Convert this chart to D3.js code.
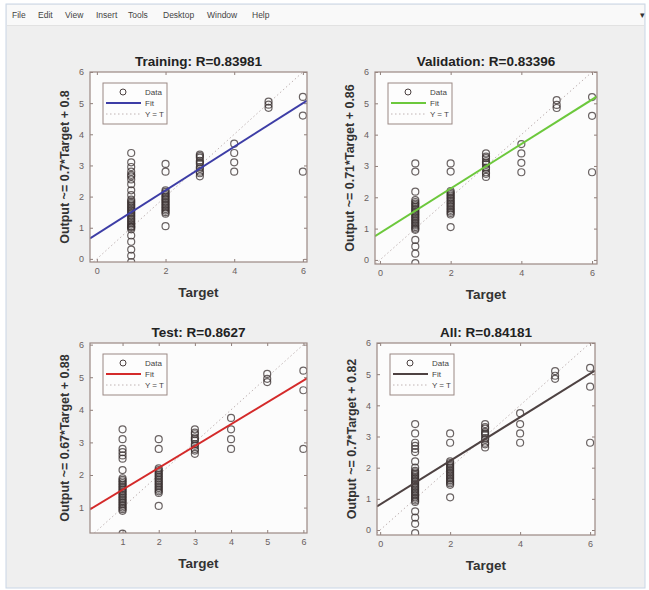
<!DOCTYPE html>
<html>
<head>
<meta charset="utf-8">
<script src="https://cdn.jsdelivr.net/npm/d3@7"></script>
<style>
  body { margin: 0; background: #ffffff; }
  svg { display: block; font-family: "Liberation Sans", Arial, sans-serif; }
</style>
</head>
<body>
<svg id="fig" width="649" height="590"></svg>
<script>
const menuItems = ['File', 'Edit', 'View', 'Insert', 'Tools', 'Desktop', 'Window', 'Help'];

const panelNames = ['Training', 'Validation', 'Test', 'All'];
const rValues = ['0.83981', '0.83396', '0.8627', '0.84181'];
const slopes = [0.7, 0.71, 0.67, 0.7];
const intercepts = [0.8, 0.86, 0.88, 0.82];
const fitColors = ['#3d3da6', '#6cc83c', '#d42a2a', '#4e4242'];

const targets = [1, 2, 3, 4, 5, 6];

// outputs grouped by target value (one inner array per target)
const trainingOutputs = [
  [-0.1, 0.1, 0.3, 0.55, 0.75, 0.95, 1.0, 1.03, 1.05, 1.1, 1.15, 1.2, 1.25, 1.3, 1.35, 1.4, 1.45, 1.5, 1.55, 1.6, 1.65, 1.7, 1.75, 1.8, 1.85, 1.9, 2.05, 2.2, 2.4, 2.55, 2.65, 2.7, 2.8, 2.95, 3.1, 3.4],
  [1.05, 1.45, 1.5, 1.55, 1.6, 1.65, 1.7, 1.75, 1.8, 1.85, 1.9, 1.95, 2.0, 2.05, 2.1, 2.15, 2.2, 2.8, 3.05],
  [2.65, 2.75, 2.8, 2.9, 2.95, 3.05, 3.1, 3.15, 3.25, 3.3, 3.35],
  [2.8, 3.1, 3.4, 3.7],
  [4.85, 4.95, 5.05],
  [2.8, 4.6, 5.2]
];
const validationOutputs = [
  [-0.1, 0.2, 0.43, 0.64, 0.96, 1.0, 1.05, 1.1, 1.15, 1.2, 1.25, 1.3, 1.35, 1.4, 1.45, 1.5, 1.55, 1.6, 1.65, 1.7, 1.75, 1.8, 1.85, 1.91, 2.18, 2.82, 3.08],
  [1.05, 1.45, 1.5, 1.55, 1.6, 1.65, 1.7, 1.75, 1.8, 1.85, 1.9, 1.95, 2.0, 2.05, 2.1, 2.15, 2.2, 2.82, 3.08],
  [2.65, 2.75, 2.8, 2.9, 2.95, 3.05, 3.1, 3.15, 3.25, 3.3, 3.4],
  [2.8, 3.1, 3.4, 3.7],
  [4.85, 4.95, 5.1],
  [2.8, 4.6, 5.2]
];
const testOutputs = [
  [0.2, 0.9, 0.95, 1.0, 1.05, 1.1, 1.15, 1.2, 1.25, 1.3, 1.35, 1.4, 1.45, 1.5, 1.55, 1.6, 1.65, 1.7, 1.75, 1.8, 1.85, 1.9, 2.15, 2.5, 2.6, 2.7, 2.8, 3.1, 3.4],
  [1.05, 1.45, 1.5, 1.55, 1.6, 1.65, 1.7, 1.75, 1.8, 1.85, 1.9, 1.95, 2.0, 2.05, 2.1, 2.15, 2.2, 2.8, 3.1],
  [2.65, 2.75, 2.8, 2.9, 2.95, 3.05, 3.1, 3.15, 3.25, 3.3, 3.4],
  [2.8, 3.1, 3.4, 3.75],
  [4.85, 4.95, 5.1],
  [2.8, 4.6, 5.2]
];
const allOutputs = [
  [-0.1, 0.2, 0.4, 0.6, 0.9, 0.95, 1.0, 1.05, 1.1, 1.15, 1.2, 1.25, 1.3, 1.35, 1.4, 1.45, 1.5, 1.55, 1.6, 1.65, 1.7, 1.75, 1.8, 1.85, 1.9, 2.0, 2.2, 2.5, 2.6, 2.7, 2.8, 3.1, 3.4],
  [1.05, 1.45, 1.5, 1.55, 1.6, 1.65, 1.7, 1.75, 1.8, 1.85, 1.9, 1.95, 2.0, 2.05, 2.1, 2.15, 2.2, 2.8, 3.1],
  [2.65, 2.75, 2.8, 2.9, 2.95, 3.05, 3.1, 3.15, 3.25, 3.3, 3.4],
  [2.8, 3.1, 3.4, 3.75],
  [4.85, 4.95, 5.1],
  [2.8, 4.6, 5.2]
];
const outputSets = [trainingOutputs, validationOutputs, testOutputs, allOutputs];

const xTickSets = [[0, 2, 4, 6], [0, 2, 4, 6], [1, 2, 3, 4, 5, 6], [0, 2, 4, 6]];
const yTickSets = [[0, 1, 2, 3, 4, 5, 6], [0, 1, 2, 3, 4, 5, 6], [1, 2, 3, 4, 5, 6], [0, 1, 2, 3, 4, 5, 6]];
const legendLabels = ['Data', 'Fit', 'Y = T'];

// axes boxes and limits
const layout = [
  { x0: 90, y0: 72, x1: 307, y1: 262, xDom: [-0.2, 6.12], yDom: [-0.1, 6] },
  { x0: 375, y0: 72, x1: 597, y1: 264, xDom: [-0.14, 6.14], yDom: [-0.13, 6] },
  { x0: 90, y0: 343, x1: 307, y1: 533, xDom: [0.1, 6.1], yDom: [0.22, 6.05] },
  { x0: 377, y0: 343, x1: 595, y1: 535, xDom: [-0.09, 6.14], yDom: [-0.16, 6] }
];

const svg = d3.select('#fig');

// window chrome
svg.append('rect').attr('x', 0).attr('y', 0).attr('width', 649).attr('height', 590).attr('fill', '#ffffff');
svg.append('rect').attr('x', 6).attr('y', 4).attr('width', 639).attr('height', 584)
  .attr('fill', '#efefef').attr('stroke', '#c9d6e6');
svg.append('rect').attr('x', 7).attr('y', 5).attr('width', 637).attr('height', 20).attr('fill', '#f9f9f9');
svg.append('line').attr('x1', 7).attr('x2', 644).attr('y1', 25.5).attr('y2', 25.5).attr('stroke', '#e2e2e2');

const menuPos = [12, 38, 65, 96, 128, 163, 207, 252];
svg.append('g').selectAll('text').data(menuItems).enter().append('text')
  .attr('x', (d, i) => menuPos[i])
  .attr('y', 18)
  .attr('font-size', 8.5)
  .attr('fill', '#444')
  .text(d => d);
svg.append('text').attr('x', 640).attr('y', 18).attr('font-size', 9).attr('fill', '#333').text('▾');

panelNames.forEach(function (name, i) {
  const L = layout[i];
  const g = svg.append('g');

  const xScale = d3.scaleLinear().domain(L.xDom).range([L.x0, L.x1]);
  const yScale = d3.scaleLinear().domain(L.yDom).range([L.y1, L.y0]);

  g.append('rect')
    .attr('x', L.x0).attr('y', L.y0)
    .attr('width', L.x1 - L.x0).attr('height', L.y1 - L.y0)
    .attr('fill', '#fcfcfc');

  const clipId = 'clip' + i;
  g.append('clipPath').attr('id', clipId).append('rect')
    .attr('x', L.x0).attr('y', L.y0)
    .attr('width', L.x1 - L.x0).attr('height', L.y1 - L.y0);

  // axes (ticks pointing inward, all four sides)
  const tickColor = '#8f7f7a';
  function styleAxis(sel) {
    sel.select('.domain').remove();
    sel.selectAll('line').attr('stroke', tickColor);
    sel.selectAll('text').attr('fill', '#6a6060').attr('font-size', 9);
  }
  g.append('g').attr('transform', `translate(0,${L.y1})`)
    .call(d3.axisBottom(xScale).tickValues(xTickSets[i]).tickSize(-3).tickPadding(6).tickFormat(d3.format('d')))
    .call(styleAxis);
  g.append('g').attr('transform', `translate(0,${L.y0})`)
    .call(d3.axisTop(xScale).tickValues(xTickSets[i]).tickSize(-3).tickFormat(''))
    .call(styleAxis);
  g.append('g').attr('transform', `translate(${L.x0},0)`)
    .call(d3.axisLeft(yScale).tickValues(yTickSets[i]).tickSize(-3).tickPadding(6).tickFormat(d3.format('d')))
    .call(styleAxis);
  g.append('g').attr('transform', `translate(${L.x1},0)`)
    .call(d3.axisRight(yScale).tickValues(yTickSets[i]).tickSize(-3).tickFormat(''))
    .call(styleAxis);

  const plot = g.append('g').attr('clip-path', `url(#${clipId})`);

  // Y = T line
  const lo = Math.max(L.xDom[0], L.yDom[0]);
  const hi = Math.min(L.xDom[1], L.yDom[1]);
  plot.append('line')
    .attr('x1', xScale(lo)).attr('y1', yScale(lo))
    .attr('x2', xScale(hi)).attr('y2', yScale(hi))
    .attr('stroke', '#c0b4b4')
    .attr('stroke-width', 1)
    .attr('stroke-dasharray', '1.5,2.5');

  // data circles
  const points = [];
  targets.forEach(function (t, k) {
    outputSets[i][k].forEach(function (o) { points.push({ t: t, o: o }); });
  });
  plot.selectAll('circle').data(points).enter().append('circle')
    .attr('cx', d => xScale(d.t))
    .attr('cy', d => yScale(d.o))
    .attr('r', 3.5)
    .attr('fill', 'none')
    .attr('stroke', '#3a3030')
    .attr('stroke-opacity', 0.75)
    .attr('stroke-width', 1.2);

  // fit line
  const fit = d3.line()
    .x(d => xScale(d))
    .y(d => yScale(slopes[i] * d + intercepts[i]));
  plot.append('path')
    .attr('d', fit(L.xDom))
    .attr('stroke', fitColors[i])
    .attr('stroke-width', 2)
    .attr('fill', 'none');

  // box
  g.append('rect')
    .attr('x', L.x0).attr('y', L.y0)
    .attr('width', L.x1 - L.x0).attr('height', L.y1 - L.y0)
    .attr('fill', 'none')
    .attr('stroke', '#9a8883')
    .attr('stroke-width', 1.2);

  // legend
  const lx = L.x0 + 13, ly = L.y0 + 11;
  const leg = g.append('g').attr('transform', `translate(${lx},${ly})`);
  leg.append('rect').attr('width', 64).attr('height', 41)
    .attr('fill', '#fdfdfd').attr('stroke', '#9a8883').attr('stroke-width', 1);
  leg.append('circle').attr('cx', 20).attr('cy', 9).attr('r', 3)
    .attr('fill', 'none').attr('stroke', '#4a4040');
  leg.append('line').attr('x1', 3).attr('x2', 38).attr('y1', 20).attr('y2', 20)
    .attr('stroke', fitColors[i]).attr('stroke-width', 2);
  leg.append('line').attr('x1', 3).attr('x2', 38).attr('y1', 31).attr('y2', 31)
    .attr('stroke', '#c0b4b4').attr('stroke-dasharray', '1.5,2.5');
  leg.selectAll('text.lab').data(legendLabels).enter().append('text')
    .attr('class', 'lab')
    .attr('x', (d, k) => k === 2 ? 61 : 42)
    .attr('y', (d, k) => 12 + k * 11)
    .attr('text-anchor', (d, k) => k === 2 ? 'end' : 'start')
    .attr('font-size', 8)
    .attr('fill', '#444')
    .text(d => d);

  const cx = (L.x0 + L.x1) / 2;
  // title
  g.append('text')
    .attr('x', cx).attr('y', L.y0 - 6)
    .attr('text-anchor', 'middle')
    .attr('font-size', 13.5)
    .attr('font-weight', 'bold')
    .attr('fill', '#222')
    .text(`${name}: R=${rValues[i]}`);

  // x label
  g.append('text')
    .attr('x', cx).attr('y', L.y1 + 35)
    .attr('text-anchor', 'middle')
    .attr('font-size', 13.5)
    .attr('font-weight', 'bold')
    .attr('fill', '#333')
    .text('Target');

  // y label
  const cy = (L.y0 + L.y1) / 2;
  g.append('text')
    .attr('transform', `translate(${L.x0 - 21},${cy}) rotate(-90)`)
    .attr('text-anchor', 'middle')
    .attr('font-size', 12.5)
    .attr('font-weight', 'bold')
    .attr('fill', '#333')
    .text(`Output ~= ${slopes[i]}*Target + ${intercepts[i]}`);
});
</script>
</body>
</html>
